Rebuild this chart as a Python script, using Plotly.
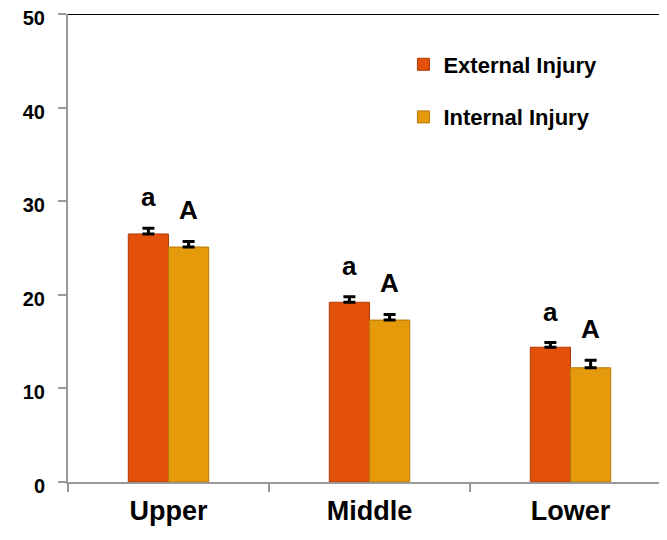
import plotly.graph_objects as go

categories = ["Upper", "Middle", "Lower"]
external = [26.5, 19.2, 14.4]
external_err = [0.6, 0.6, 0.5]
internal = [25.1, 17.3, 12.2]
internal_err = [0.6, 0.6, 0.8]
ext_letters = ["a", "a", "a"]
int_letters = ["A", "A", "A"]
y_ticks = [0, 10, 20, 30, 40, 50]

FONT = "Liberation Sans, Arial, sans-serif"

fig = go.Figure()
fig.add_trace(go.Bar(
    x=categories, y=external, name="External Injury",
    marker=dict(color="#E2500A", line=dict(color="#B03A05", width=1)),
    error_y=dict(type="data", array=external_err, symmetric=False,
                 color="black", thickness=3, width=6),
    legendgroup="g1",
))
fig.add_trace(go.Bar(
    x=categories, y=internal, name="Internal Injury",
    marker=dict(color="#E59A0C", line=dict(color="#B57806", width=1)),
    error_y=dict(type="data", array=internal_err, symmetric=False,
                 color="black", thickness=3, width=6),
    legendgroup="g2",
))

annotations = []
for i, c in enumerate(categories):
    annotations.append(dict(x=c, y=external[i] + external_err[i], xref="x", yref="y",
                            text=ext_letters[i], showarrow=False,
                            xshift=-20, yshift=14, yanchor="bottom",
                            font=dict(family=FONT, size=26, color="black", weight="bold")))
    annotations.append(dict(x=c, y=internal[i] + internal_err[i], xref="x", yref="y",
                            text=int_letters[i], showarrow=False,
                            xshift=20, yshift=14, yanchor="bottom",
                            font=dict(family=FONT, size=26, color="black", weight="bold")))

fig.update_layout(
    width=667, height=540,
    margin=dict(l=60, r=8, t=6, b=66),
    paper_bgcolor="white", plot_bgcolor="white",
    barmode="group", bargap=0.6, bargroupgap=0,
    font=dict(family=FONT, color="black"),
    showlegend=True,
    legend=dict(x=0.56, y=0.937, xanchor="left", yanchor="top",
                font=dict(family=FONT, size=22, color="black", weight="bold"),
                tracegroupgap=21, itemwidth=30, bgcolor="rgba(0,0,0,0)"),
    annotations=annotations,
    shapes=[dict(type="line", xref="paper", yref="y", x0=0, x1=1, y0=50, y1=50,
                 line=dict(color="black", width=2))],
    xaxis=dict(range=[-0.5, 2.48], showline=True, linecolor="#999999", linewidth=2,
               ticks="outside", tickson="boundaries", ticklen=8, tickcolor="#999999",
               tickwidth=2, tickfont=dict(family=FONT, size=27, color="black", weight="bold"),
               showgrid=False, automargin=False, ticklabelstandoff=4),
    yaxis=dict(range=[0, 50], tickvals=y_ticks, showline=True, linecolor="#999999",
               linewidth=2, ticks="outside", ticklen=8, tickcolor="#999999", tickwidth=2,
               tickfont=dict(family=FONT, size=20, color="black", weight="bold"),
               showgrid=False, zeroline=False, automargin=False, ticklabelstandoff=9,
               ticklabelshift=4, ticklabeloverflow="allow"),
)

fig.write_html("out.html")
